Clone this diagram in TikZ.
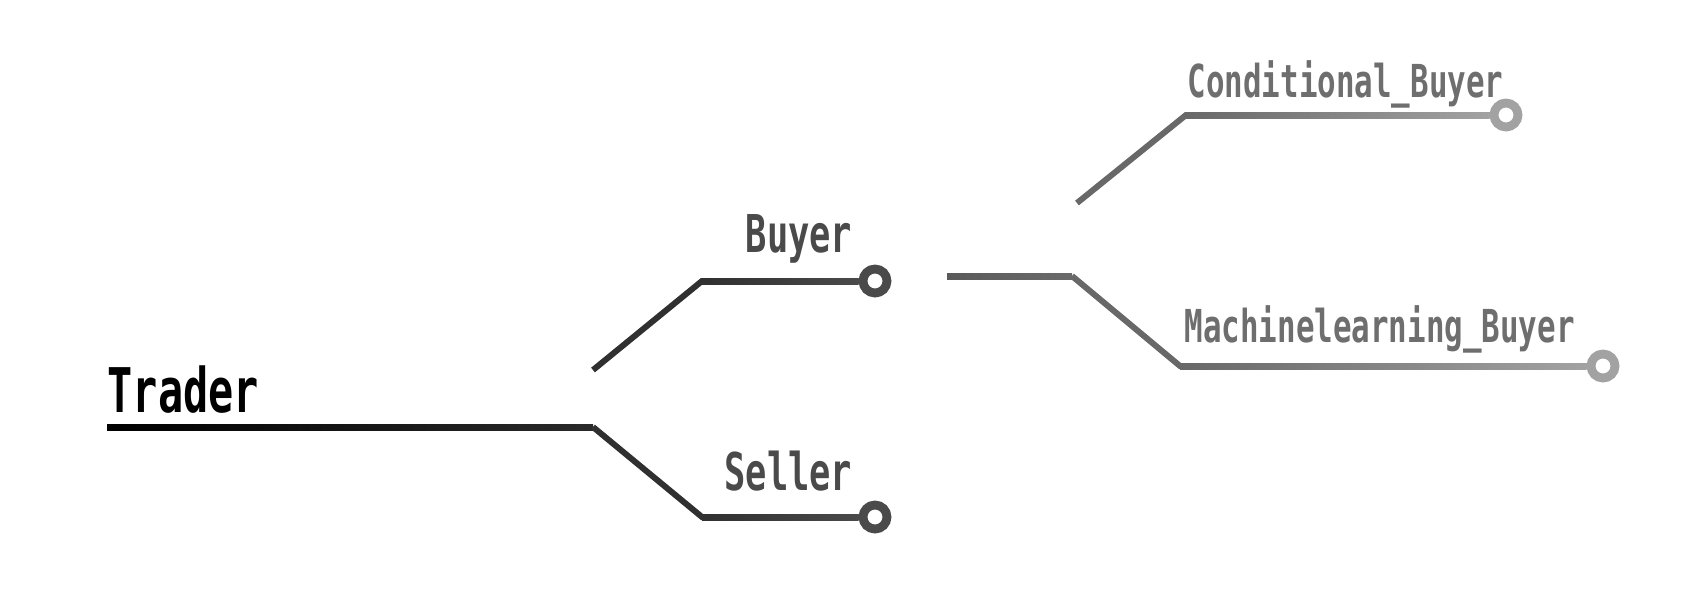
\documentclass[tikz,border=0pt]{standalone}
\usepackage{fontspec}
\newfontfamily\treefont[FakeStretch=0.68]{DejaVu Sans Mono}
\usetikzlibrary{calc}

\definecolor{rootwire}{HTML}{2A2A2A}
\definecolor{midwire}{HTML}{303030}
\definecolor{midtext}{HTML}{4A4A4A}
\definecolor{stubwire}{HTML}{5A5A5A}
\definecolor{leafwire}{HTML}{686868}
\definecolor{leafend}{HTML}{A2A2A2}
\definecolor{leaftext}{HTML}{6E6E6E}

\begin{document}
\begin{tikzpicture}[x=0.01cm,y=-0.01cm]
          \useasboundingbox (0,0) rectangle (1706,602);
          \tikzset{
            root/.style={inner sep=0pt, font=\treefont\bfseries\fontsize{17.5}{21}\selectfont},
            mid/.style={inner sep=0pt, text=midtext, font=\treefont\bfseries\fontsize{14.8}{18}\selectfont},
            leaf/.style={inner sep=0pt, text=leaftext, font=\treefont\bfseries\fontsize{12.9}{16}\selectfont},
            tip/.style={circle, draw, fill=white, line width=2.5pt, minimum size=0.24cm, inner sep=0pt},
            wire/.style={line width=1.7pt}
          }

          % root
          \node[root, anchor=base west] (trader) at (107,412) {Trader};
          \coordinate (t0) at (107,427);
          \coordinate (t1) at (593,427);
          \shade[left color=black, right color=rootwire] ($(t0)+(0,-3)$) rectangle ($(t1)+(0,3)$);

          % buyer and seller
          \coordinate (b0) at (593,370);
          \coordinate (b1) at (702,281);
          \coordinate (s1) at (702,517);
          \node[tip, draw=midtext] (buyerend) at (875,281) {};
          \node[tip, draw=midtext] (sellerend) at (875,517) {};
          \node[mid, anchor=base east] (buyer) at (853,252) {Buyer};
          \node[mid, anchor=base east] (seller) at (853,490) {Seller};

          \draw[wire, midwire] (b0) -- (b1) -- (buyerend.west);
          \draw[wire, midwire] (t1) -- (s1) -- (sellerend.west);
          \shade[left color=midwire, right color=midtext] ($(b1)+(0,-3)$) rectangle ($(buyerend.west)+(0,3)$);
          \shade[left color=midwire, right color=midtext] ($(s1)+(0,-3)$) rectangle ($(sellerend.west)+(0,3)$);

          % buyer kinds
          \coordinate (u0) at (947,276);
          \coordinate (u1) at (1072,276);
          \shade[left color=stubwire, right color=stubwire!90!white] ($(u0)+(0,-3)$) rectangle ($(u1)+(0,3)$);

          \coordinate (c0) at (1077,203);
          \coordinate (c1) at (1186,115);
          \coordinate (m1) at (1180,366);
          \node[tip, draw=leafend] (condend) at (1506,115) {};
          \node[tip, draw=leafend] (mlend) at (1603,366) {};
          \node[leaf, anchor=base west] (cond) at (1187,97) {Conditional\_Buyer};
          \node[leaf, anchor=base west] (ml) at (1184,342) {Machinelearning\_Buyer};

          \draw[wire, leafwire] (c0) -- (c1) -- (condend.west);
          \draw[wire, leafwire] (u1) -- (m1) -- (mlend.west);
          \shade[left color=leafwire, right color=leafend] ($(c1)+(0,-3)$) rectangle ($(condend.west)+(0,3)$);
          \shade[left color=leafwire, right color=leafend] ($(m1)+(0,-3)$) rectangle ($(mlend.west)+(0,3)$);
        \end{tikzpicture}
\end{document}
